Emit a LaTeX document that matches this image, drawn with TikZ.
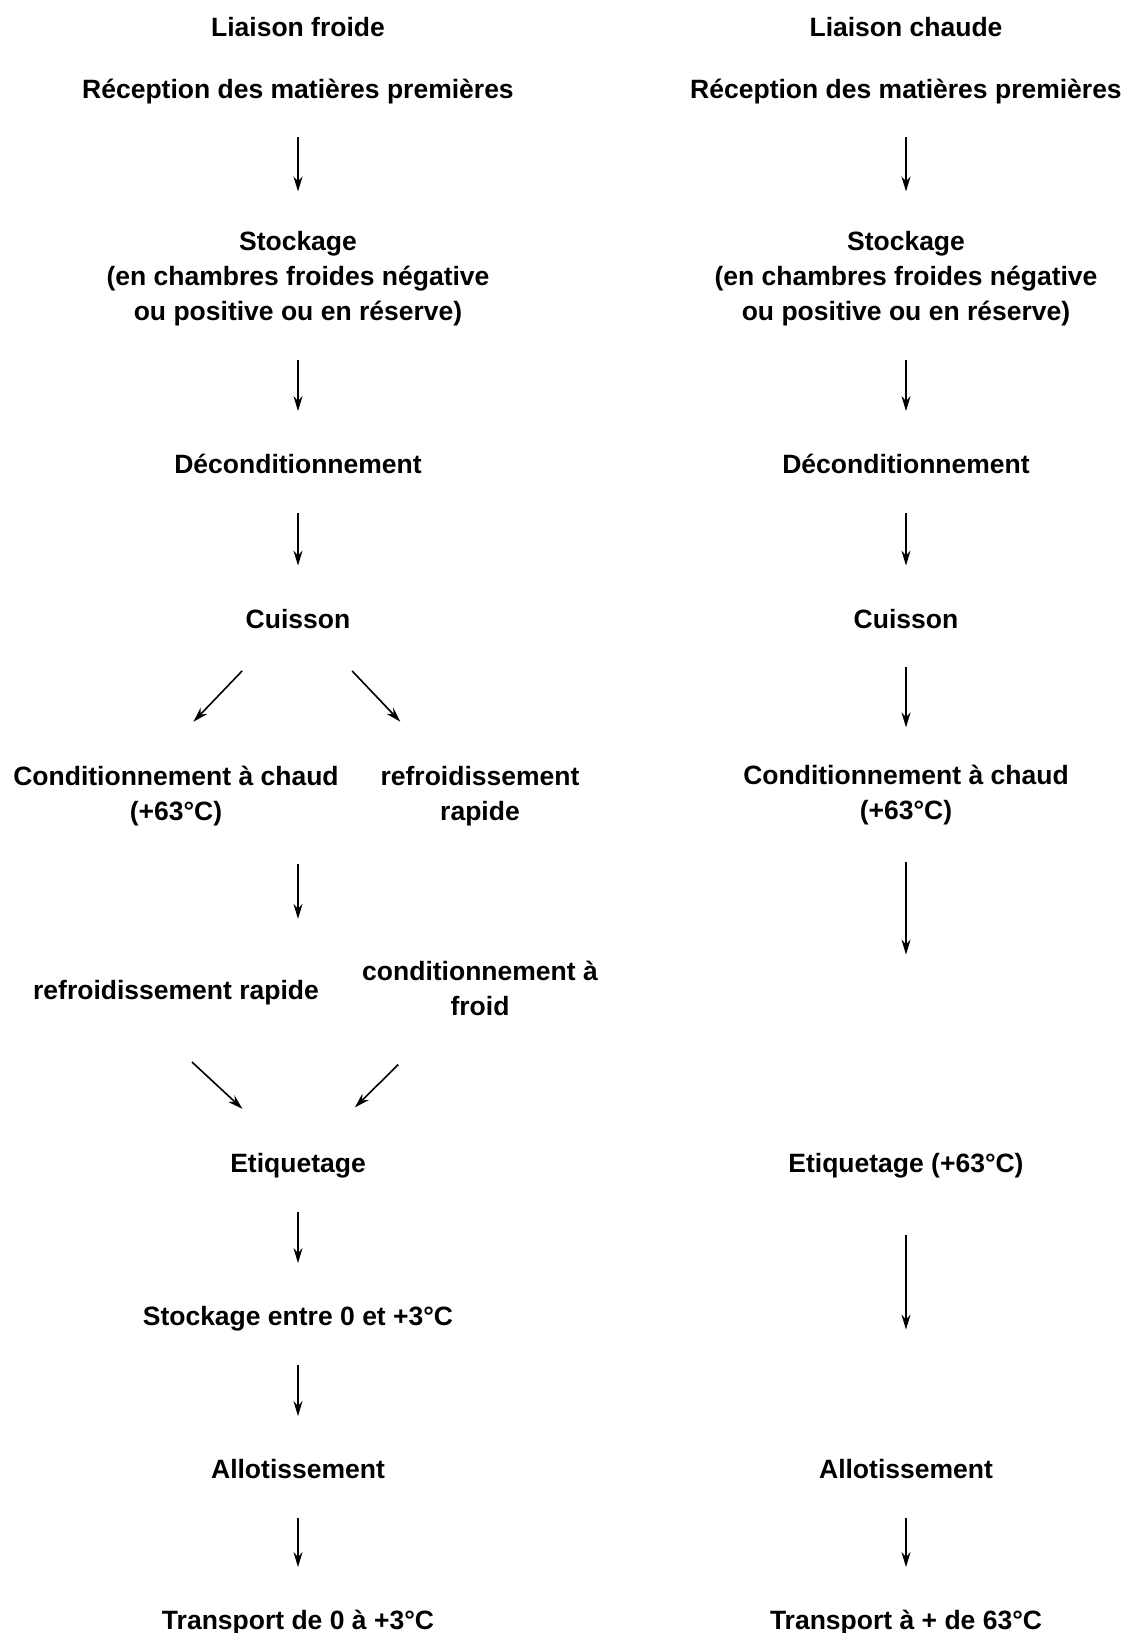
\documentclass[tikz,border=0pt]{standalone}
\usepackage{fontspec}
\setmainfont{Liberation Sans}
\usetikzlibrary{arrows.meta, calc}
\newcommand{\lstrut}{\rule[-3.5pt]{0pt}{17.5pt}}

\begin{document}
\begin{tikzpicture}[x=0.5pt, y=-0.5pt,
                lbl/.style={align=center, inner sep=0pt, font=\fontsize{13.25}{17.5}\selectfont\bfseries,
                            execute at begin node=\lstrut, execute at end node=\lstrut},
                flow/.style={line width=0.8pt, -{Stealth[length=7.5pt, width=4.5pt]}, shorten <=16pt, shorten >=17pt}]
                \fill[white] (0,0) rectangle (1131,1633);
                \useasboundingbox (0,0) rectangle (1131,1633);
                \node[lbl] (titreF) at (298, 26) {Liaison froide};
                \node[lbl] (recepF) at (298, 87.5) {Réception des matières premières};
                \node[lbl] (stockF) at (298, 279) {Stockage\\(en chambres froides négative\\ou positive ou en réserve)};
                \node[lbl] (decondF) at (298, 463) {Déconditionnement};
                \node[lbl] (cuisF) at (298, 617.5) {Cuisson};
                \node[lbl] (condCF) at (176, 796.5) {Conditionnement à chaud\\(+63°C)};
                \node[lbl] (refrA) at (480, 796.5) {refroidissement\\rapide};
                \node[lbl] (refrB) at (176, 989) {refroidissement rapide};
                \node[lbl] (condFr) at (480, 992) {conditionnement à\\froid};
                \node[lbl] (etiqF) at (298, 1162) {Etiquetage};
                \node[lbl] (stockFr) at (298, 1315) {Stockage entre 0 et +3°C};
                \node[lbl] (allotF) at (298, 1468) {Allotissement};
                \node[lbl] (transF) at (298, 1619) {Transport de 0 à +3°C};
                \node[lbl] (titreC) at (906, 26) {Liaison chaude};
                \node[lbl] (recepC) at (906, 87.5) {Réception des matières premières};
                \node[lbl] (stockC) at (906, 279) {Stockage\\(en chambres froides négative\\ou positive ou en réserve)};
                \node[lbl] (decondC) at (906, 463) {Déconditionnement};
                \node[lbl] (cuisC) at (906, 617.5) {Cuisson};
                \node[lbl] (condCC) at (906, 795.5) {Conditionnement à chaud\\(+63°C)};
                \node[lbl] (etiqC) at (906, 1162) {Etiquetage (+63°C)};
                \node[lbl] (allotC) at (906, 1468) {Allotissement};
                \node[lbl] (transC) at (906, 1619) {Transport à + de 63°C};
                \draw[flow, shorten >=19.5pt] (recepF) -- (stockF);
                \draw[flow] (stockF) -- (decondF);
                \draw[flow] (decondF) -- (cuisF);
                \draw[flow, shorten <=24.5pt, shorten >=30.2pt] ([xshift=-10.95pt]cuisF.south) -- ([xshift=-12.15pt]condCF.north);
                \draw[flow, shorten <=24.5pt, shorten >=30.2pt] ([xshift=10.2pt]cuisF.south) -- ([xshift=-19.05pt]refrA.north);
                \draw[flow, shorten <=18pt, shorten >=21pt] (cuisF |- condCF.south) -- (cuisF |- condFr.north);
                \draw[flow, shorten <=40.5pt, shorten >=25.9pt] ([xshift=-21.7pt]refrB.south) -- ([xshift=-8.8pt]etiqF.north);
                \draw[flow, shorten <=29.5pt, shorten >=26.1pt] ([xshift=-19.85pt]condFr.south) -- ([xshift=9.85pt]etiqF.north);
                \draw[flow] (etiqF) -- (stockFr);
                \draw[flow] (stockFr) -- (allotF);
                \draw[flow] (allotF) -- (transF);
                \draw[flow, shorten >=19.5pt] (recepC) -- (stockC);
                \draw[flow] (stockC) -- (decondC);
                \draw[flow] (decondC) -- (cuisC);
                \draw[flow, shorten >=18.5pt] (cuisC) -- (condCC);
                \draw[flow, shorten <=17.75pt, shorten >=94.75pt] (condCC) -- (etiqC);
                \draw[flow, shorten <=27.75pt, shorten >=60.25pt] (etiqC) -- (allotC);
                \draw[flow] (allotC) -- (transC);
            \end{tikzpicture}
\end{document}
